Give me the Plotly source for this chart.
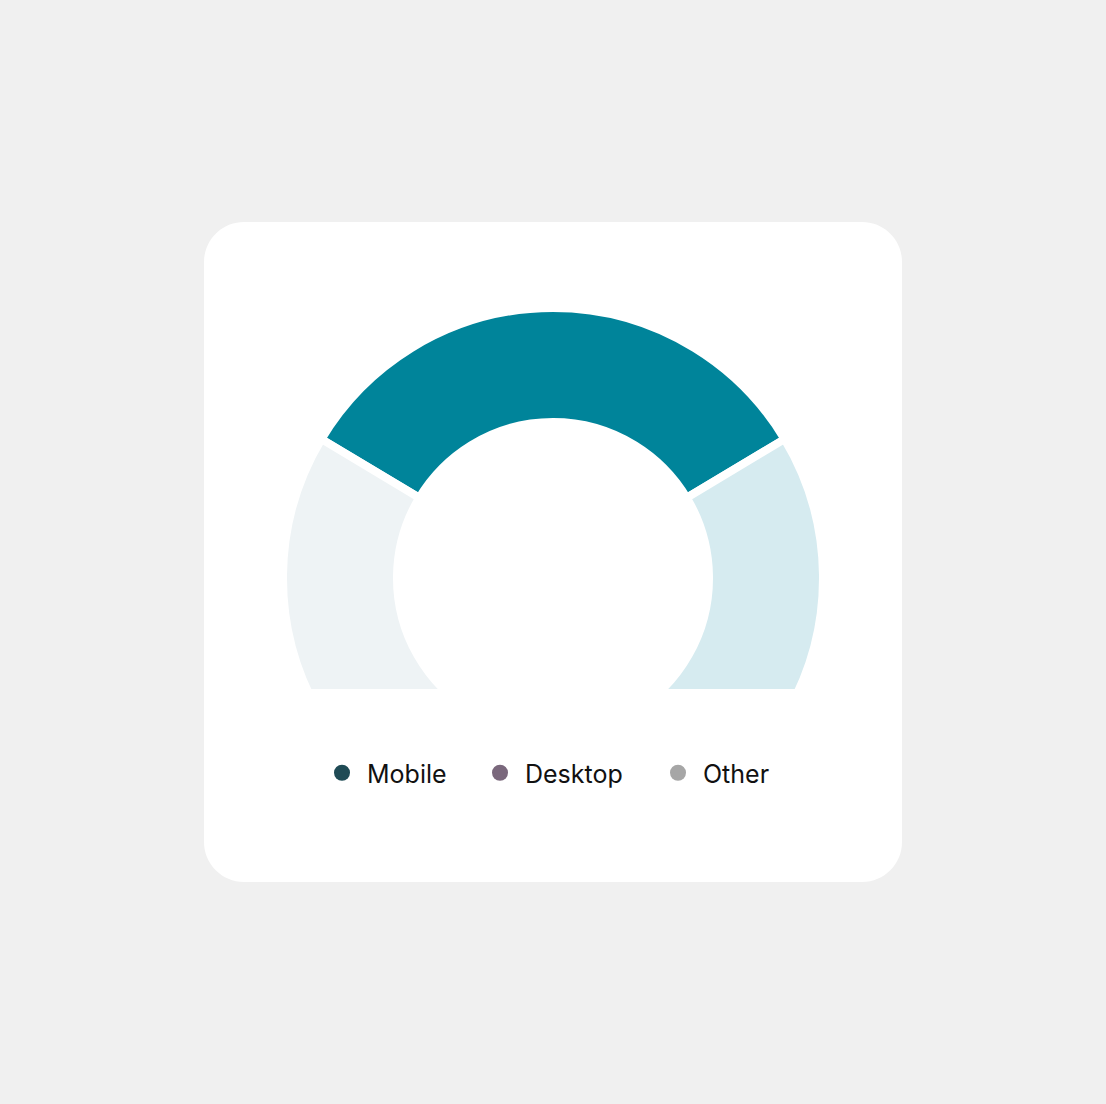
import plotly.graph_objects as go

# ---- data ----
categories = ["Mobile", "Desktop", "Other"]
share_values = [32.8, 33.6, 33.6]
slice_colors = ["#00849A", "#D6EBF0", "#EEF3F5"]
legend_colors = ["#1F4B55", "#7A687C", "#A6A6A6"]

W, H = 1106, 1104

def px_x(x):
    return x / W

def px_y(y):
    return (H - y) / H

# donut geometry (pixels)
cx, cy = 553, 578
stroke = 8
R = 266 + stroke / 2
hole = (160 - stroke / 2) / R

fig = go.Figure()

fig.add_trace(go.Pie(
    labels=categories,
    values=share_values,
    sort=False,
    direction="clockwise",
    rotation=-share_values[0] / sum(share_values) * 180,
    hole=hole,
    marker=dict(colors=slice_colors, line=dict(color="#FFFFFF", width=stroke)),
    textinfo="none",
    hoverinfo="label+percent",
    showlegend=False,
    domain=dict(x=[px_x(cx - R), px_x(cx + R)], y=[px_y(cy + R), px_y(cy - R)]),
))

# legend entries (circle markers), one legend box per entry
legend_ids = ["legend", "legend2", "legend3"]
marker_x = [342, 500, 678]
for name, col, lid in zip(categories, legend_colors, legend_ids):
    fig.add_trace(go.Scatter(
        x=[None], y=[None], mode="markers", name=name, legend=lid,
        marker=dict(color=col, size=16, symbol="circle"),
        hoverinfo="skip",
    ))

# card with rounded corners
x0, x1, y0, y1, r = 204, 902, 222, 882, 40
k = 0.5523 * r
pts = [
    f"M {px_x(x0 + r)},{px_y(y0)}",
    f"L {px_x(x1 - r)},{px_y(y0)}",
    f"C {px_x(x1 - r + k)},{px_y(y0)} {px_x(x1)},{px_y(y0 + r - k)} {px_x(x1)},{px_y(y0 + r)}",
    f"L {px_x(x1)},{px_y(y1 - r)}",
    f"C {px_x(x1)},{px_y(y1 - r + k)} {px_x(x1 - r + k)},{px_y(y1)} {px_x(x1 - r)},{px_y(y1)}",
    f"L {px_x(x0 + r)},{px_y(y1)}",
    f"C {px_x(x0 + r - k)},{px_y(y1)} {px_x(x0)},{px_y(y1 - r + k)} {px_x(x0)},{px_y(y1 - r)}",
    f"L {px_x(x0)},{px_y(y0 + r)}",
    f"C {px_x(x0)},{px_y(y0 + r - k)} {px_x(x0 + r - k)},{px_y(y0)} {px_x(x0 + r)},{px_y(y0)}",
    "Z",
]
shapes = [
    dict(type="path", path=" ".join(pts), xref="paper", yref="paper",
         fillcolor="#FFFFFF", line=dict(width=0), layer="below"),
    # clip bottom of the donut
    dict(type="rect", xref="paper", yref="paper",
         x0=px_x(270), x1=px_x(836), y0=px_y(870), y1=px_y(689),
         fillcolor="#FFFFFF", line=dict(width=0), layer="above"),
]

legend_style = dict(
    orientation="h", xanchor="left", y=px_y(773), yanchor="middle",
    font=dict(family="Inter", size=25, color="#111111"),
    bgcolor="rgba(0,0,0,0)", itemclick=False, itemdoubleclick=False,
    itemwidth=40, borderwidth=0,
)
legends = {}
for lid, mx in zip(legend_ids, marker_x):
    legends[lid] = dict(legend_style, x=px_x(mx - 25))

fig.update_layout(
    width=W, height=H,
    margin=dict(l=0, r=0, t=0, b=0),
    paper_bgcolor="#F0F0F0",
    plot_bgcolor="rgba(0,0,0,0)",
    xaxis=dict(visible=False),
    yaxis=dict(visible=False),
    shapes=shapes,
    showlegend=True,
    font=dict(family="Inter"),
    **legends,
)

fig.write_html(
    "out.html",
    config={"displayModeBar": False},
    post_script="document.body.style.margin='0';document.body.style.background='#F0F0F0';",
)
